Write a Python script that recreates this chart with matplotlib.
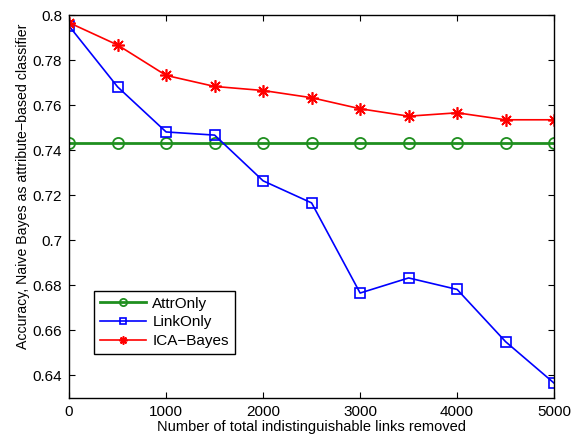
import matplotlib
matplotlib.use("Agg")
import matplotlib.pyplot as plt

plt.rcParams['font.family'] = ['Liberation Sans', 'DejaVu Sans']

links_removed = [0, 500, 1000, 1500, 2000, 2500, 3000, 3500, 4000, 4500, 5000]
attr_only = [0.743] * 11
link_only = [0.7951, 0.7681, 0.7481, 0.7467, 0.7264, 0.7166, 0.6766, 0.6833, 0.6782, 0.6550, 0.6366]
ica_bayes = [0.7966, 0.7867, 0.7732, 0.7683, 0.7665, 0.7633, 0.7584, 0.7551, 0.7566, 0.7535, 0.7535]

fig = plt.figure(figsize=(5.76, 4.42), dpi=100)
ax = fig.add_axes([0.12, 0.0995, 0.842, 0.8665])

ax.plot(links_removed, attr_only, color='#1f8f1f', lw=2, marker='o', ms=8,
        mfc='none', mew=1.3, label='AttrOnly')
ax.plot(links_removed, link_only, color='#0000ff', lw=1.2, marker='s', ms=7,
        mfc='none', mew=1.2, label='LinkOnly')
# MATLAB-style asterisk marker (plus and cross combined)
ax.plot(links_removed, ica_bayes, color='#ff0000', lw=1.2, marker=(8, 2, 0), ms=9,
        mew=1.2, label='ICA\u2212Bayes')

ax.set_xlim(0, 5000)
ax.set_ylim(0.63, 0.8)
ax.set_xticks(range(0, 5001, 1000))
ax.set_yticks([0.64, 0.66, 0.68, 0.7, 0.72, 0.74, 0.76, 0.78, 0.8])
ax.set_yticklabels(['0.64', '0.66', '0.68', '0.7', '0.72', '0.74', '0.76', '0.78', '0.8'])
ax.tick_params(direction='in', top=True, right=True, labelsize=11, length=4, pad=5)
for s in ax.spines.values():
    s.set_linewidth(1.0)

ax.set_xlabel('Number of total indistinguishable links removed', fontsize=10.5, labelpad=1)
ax.set_ylabel('Accuracy, Naive Bayes as attribute\u2212based classifier', fontsize=10.2)
ax.yaxis.set_label_coords(-0.08, 0.553)

leg = ax.legend(loc='lower left', bbox_to_anchor=(0.052, 0.115), fontsize=11,
                fancybox=False, edgecolor='black', framealpha=1, markerscale=0.65,
                handlelength=3.0, borderpad=0.4, labelspacing=0.3, handletextpad=0.4,
                borderaxespad=0)
leg.get_frame().set_linewidth(1.0)

fig.savefig('out.png', dpi=100)
